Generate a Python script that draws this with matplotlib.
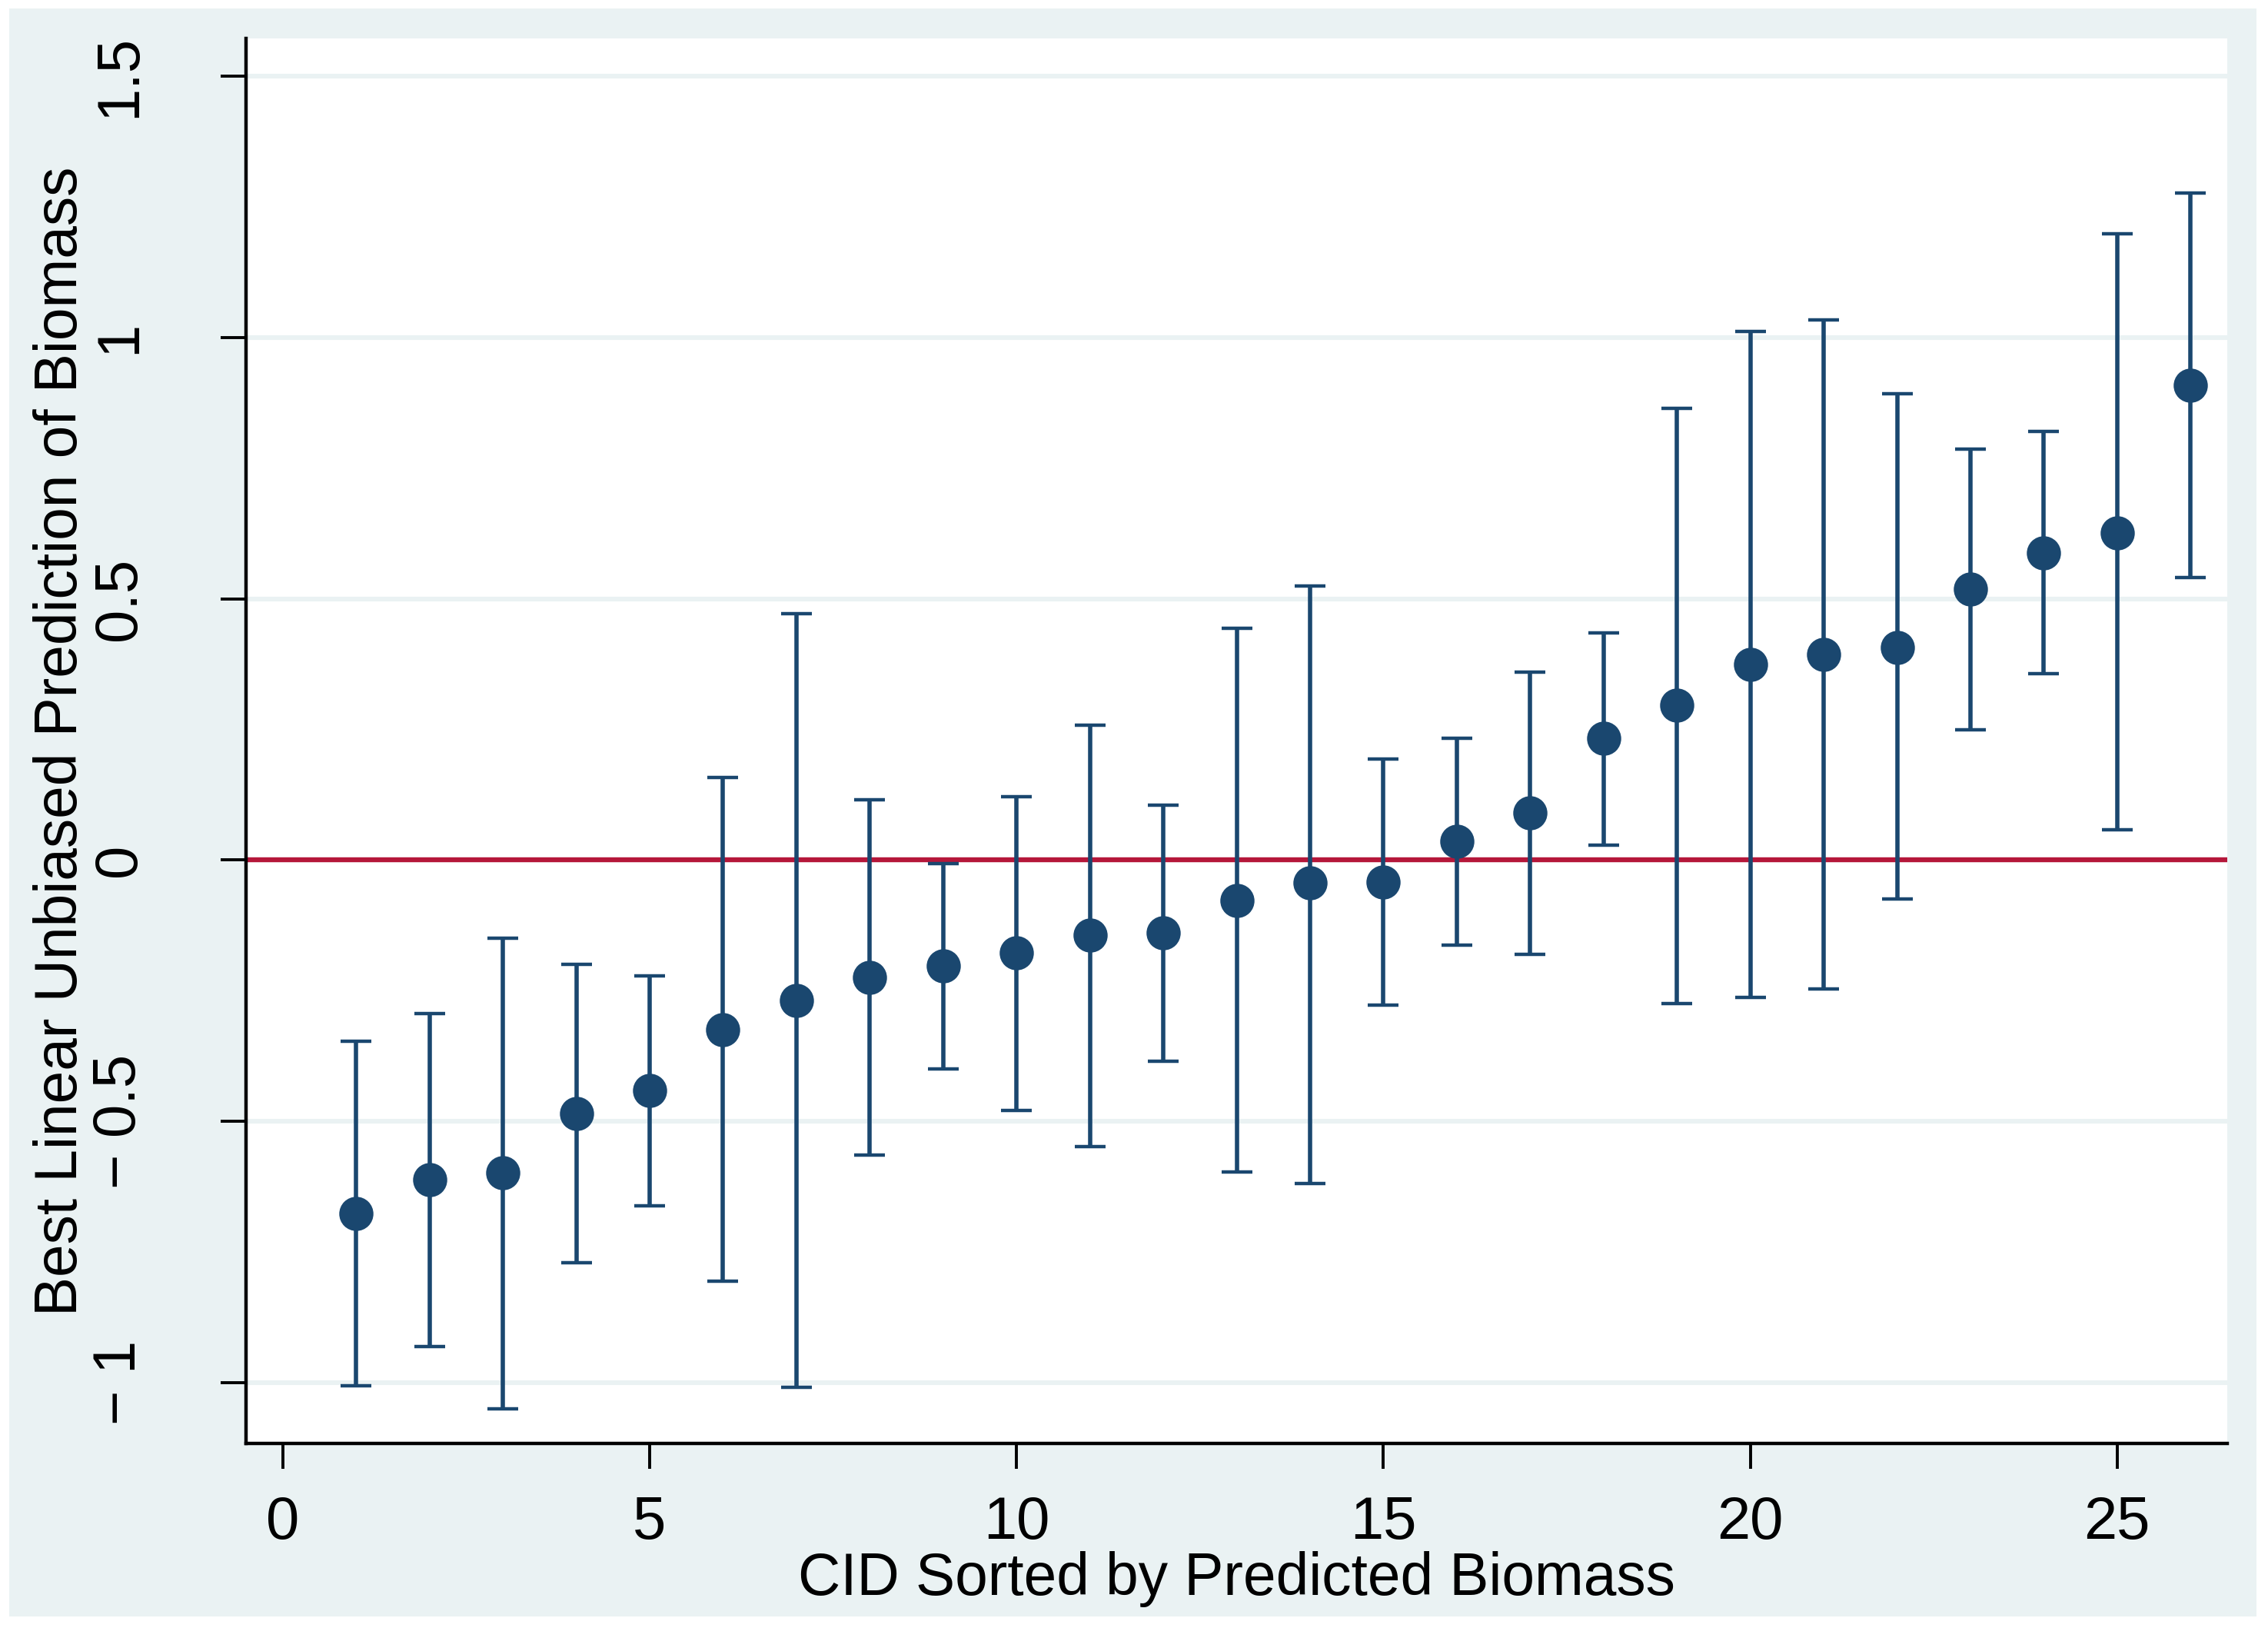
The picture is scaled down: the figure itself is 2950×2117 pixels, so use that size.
import numpy as np
import matplotlib
matplotlib.use("Agg")
import matplotlib.pyplot as plt
from matplotlib.patches import Rectangle

# CID rank, BLUP estimate and interval bounds
cid = list(range(1, 27))
blup = [-0.676, -0.612, -0.598, -0.485, -0.440, -0.324, -0.269, -0.224, -0.202,
        -0.177, -0.144, -0.139, -0.078, -0.044, -0.042, 0.036, 0.091, 0.233,
        0.296, 0.374, 0.393, 0.407, 0.518, 0.587, 0.626, 0.909]
upper = [-0.346, -0.294, -0.150, -0.199, -0.222, 0.158, 0.471, 0.116, -0.006,
         0.122, 0.258, 0.105, 0.443, 0.524, 0.194, 0.233, 0.360, 0.435,
         0.864, 1.011, 1.033, 0.892, 0.787, 0.820, 1.199, 1.277]
lower = [-1.006, -0.931, -1.050, -0.770, -0.662, -0.806, -1.008, -0.565, -0.399,
         -0.479, -0.548, -0.385, -0.596, -0.618, -0.277, -0.163, -0.180, 0.028,
         -0.274, -0.263, -0.247, -0.075, 0.249, 0.357, 0.058, 0.540]

x_ticks = [0, 5, 10, 15, 20, 25]
y_ticks = [-1, -0.5, 0, 0.5, 1, 1.5]
y_tick_labels = ["\u2212 1", "\u2212 0.5", "0", "0.5", "1", "1.5"]

navy = "#1A476F"
outer_bg = "#EAF2F3"

plt.rcParams["font.family"] = ["Liberation Sans", "DejaVu Sans"]

fig = plt.figure(figsize=(14.75, 10.585), dpi=200, facecolor="white")
# light outer region like Stata's s2color scheme
fig.patches.append(Rectangle((12 / 2950, 1 - 2102 / 2117), (2935 - 12) / 2950,
                             (2102 - 11) / 2117, transform=fig.transFigure,
                             facecolor=outer_bg, edgecolor="none", zorder=-10))
ax = fig.add_axes([320 / 2950, 1 - 1877 / 2117, (2897 - 320) / 2950, (1877 - 50) / 2117])
ax.set_facecolor("white")

for yv in y_ticks:
    ax.axhline(yv, color=outer_bg, lw=2.2, zorder=0)
ax.axhline(0, color="#B5173A", lw=2.3, zorder=1)

blup = np.array(blup)
yerr = [blup - np.array(lower), np.array(upper) - blup]
ax.errorbar(cid, blup, yerr=yerr, fmt="o", color=navy, ms=15, elinewidth=2,
            capsize=7.2, capthick=1.6, zorder=3)

ax.set_xlim(-0.5, 26.5)
ax.set_ylim(-1.116, 1.572)
ax.set_xticks(x_ticks)
ax.set_yticks(y_ticks)
ax.set_yticklabels(y_tick_labels, rotation=90, va="center")

for side in ["top", "right"]:
    ax.spines[side].set_visible(False)
for side in ["left", "bottom"]:
    ax.spines[side].set_linewidth(1.6)
ax.tick_params(axis="both", length=12, width=1.4, labelsize=28)
ax.tick_params(axis="y", pad=34)
ax.tick_params(axis="x", pad=12)

ax.set_xlabel("CID Sorted by Predicted Biomass", fontsize=27.6, labelpad=0)
ax.set_ylabel("Best Linear Unbiased Prediction of Biomass", fontsize=27.6, labelpad=1)

fig.savefig("out.png", dpi=200, facecolor="white")
